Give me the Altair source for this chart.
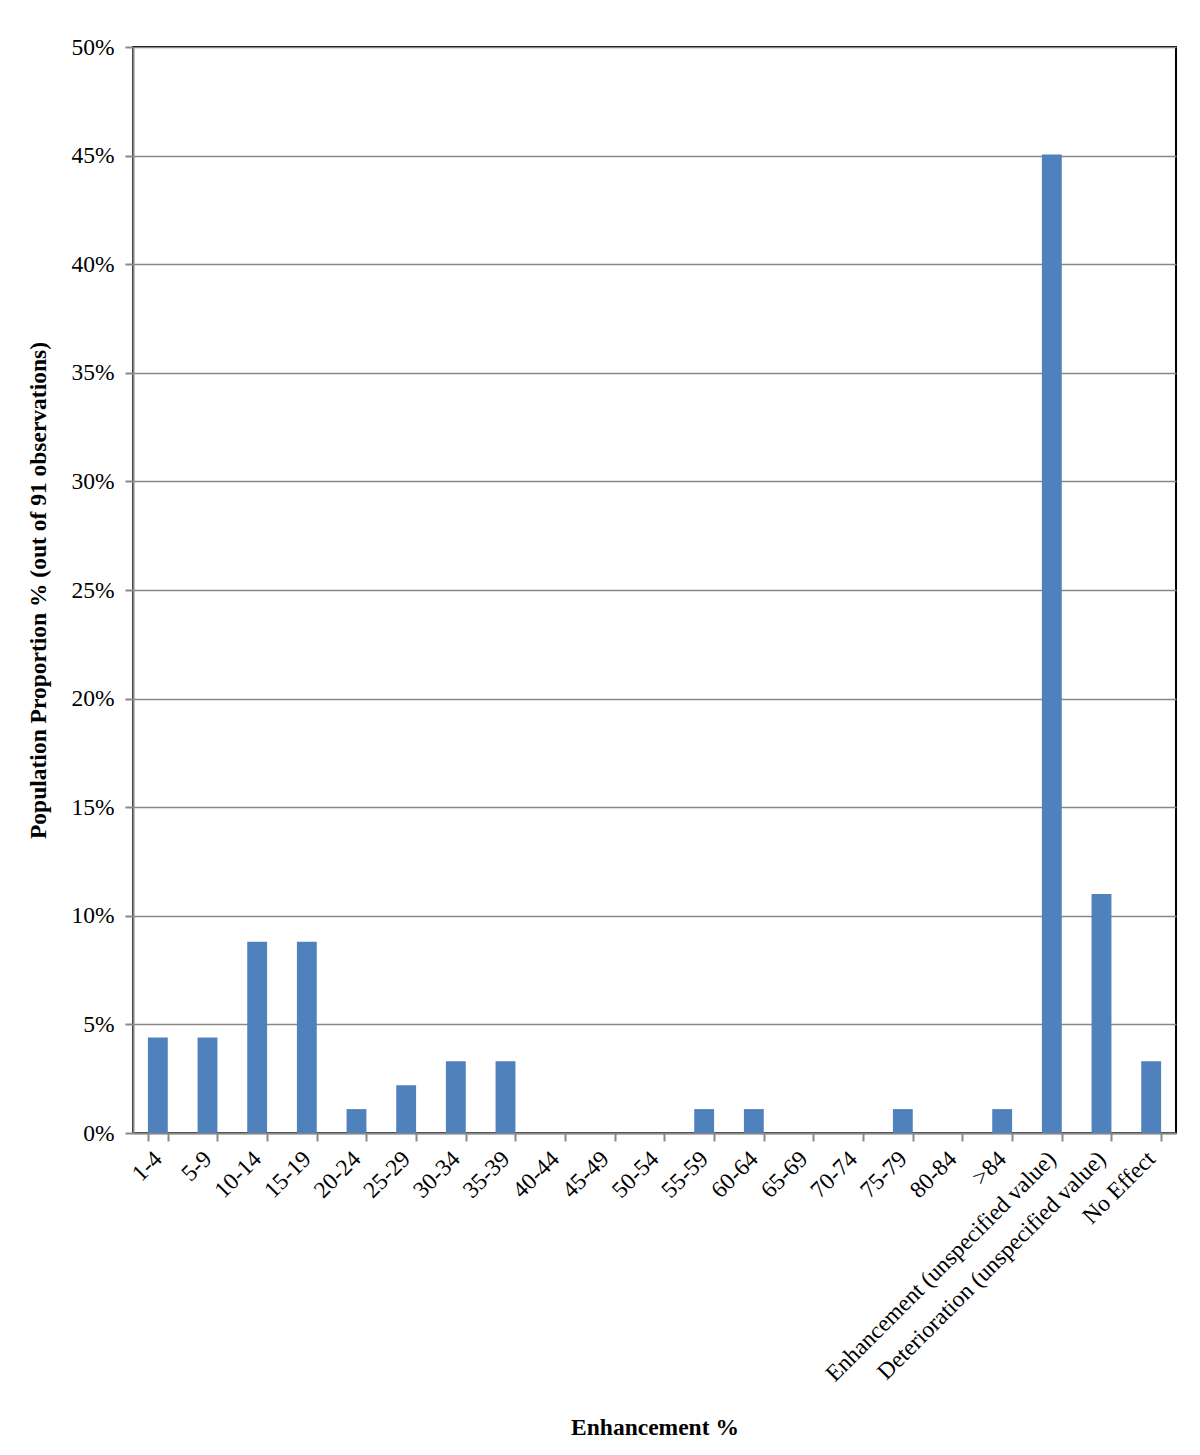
import altair as alt
import pandas as pd

categories = ["1-4", "5-9", "10-14", "15-19", "20-24", "25-29", "30-34", "35-39",
              "40-44", "45-49", "50-54", "55-59", "60-64", "65-69", "70-74", "75-79",
              "80-84", ">84", "Enhancement (unspecified value)",
              "Deterioration (unspecified value)", "No Effect"]
values = [0.044, 0.044, 0.088, 0.088, 0.011, 0.022, 0.033, 0.033,
          0.0, 0.0, 0.0, 0.011, 0.011, 0.0, 0.0, 0.011,
          0.0, 0.011, 0.4505, 0.110, 0.033]

df = pd.DataFrame({"cat": categories, "val": values})

FONT = "Liberation Serif"

chart = alt.Chart(df).mark_bar(color="#4F81BD").encode(
    x=alt.X("cat:N", sort=categories,
            scale=alt.Scale(paddingInner=0.6, paddingOuter=0.3),
            axis=alt.Axis(title="Enhancement %", labelAngle=-45, labelAlign="right",
                          labelBaseline="middle", labelFontSize=23.5, labelFont=FONT,
                          labelColor="black", labelPadding=14, labelLimit=0,
                          titleFont=FONT, titleFontSize=23.5, titleFontWeight="bold",
                          titleColor="black", titlePadding=82,
                          tickBand="extent", tickSize=8, tickColor="#888888",
                          domainColor="#888888", domainWidth=2, tickWidth=2,
                          grid=False, labelOverlap=False)),
    y=alt.Y("val:Q", scale=alt.Scale(domain=[0, 0.5], nice=False),
            axis=alt.Axis(title="Population Proportion % (out of 91 observations)",
                          format=".0%", values=[i * 0.05 for i in range(11)],
                          labelFontSize=23.5, labelFont=FONT, labelColor="black",
                          labelPadding=11,
                          titleFont=FONT, titleFontSize=23.5, titleFontWeight="bold",
                          titleColor="black", titlePadding=20,
                          tickSize=8, tickColor="#888888", tickWidth=2,
                          domainColor="#888888", domainWidth=2,
                          gridColor="#888888", gridWidth=1.5)),
).properties(
    width=1043, height=1086,
    autosize=alt.AutoSizeParams(type="none"),
    padding={"left": 125, "top": 39, "right": 16, "bottom": 310},
).configure_view(stroke="black", strokeWidth=2)

chart.save("out.html", embed_options={"renderer": "svg", "actions": False})
